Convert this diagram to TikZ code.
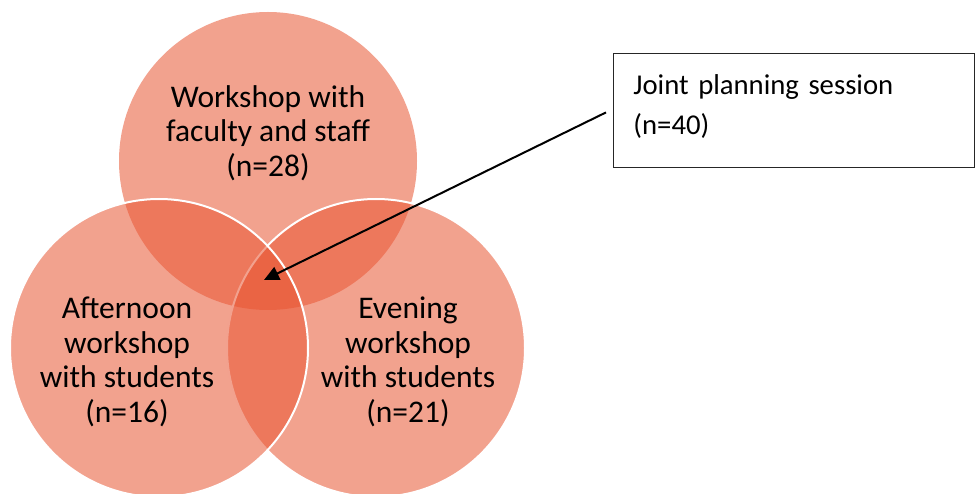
\documentclass[tikz,border=0pt]{standalone}
\usepackage{fontspec}
\setmainfont{Carlito}
\usetikzlibrary{arrows.meta}
\definecolor{vennbase}{RGB}{232,85,50}
\tikzset{
	venn/.style={fill=vennbase, fill opacity=0.55, draw=white, line width=2pt},
	vennplain/.style={fill=vennbase, fill opacity=0.55, draw=none},
	vennlabel/.style={align=center, font=\fontsize{31.5}{34.5}\selectfont},
	notebox/.style={draw=black!85, line width=0.9pt, anchor=north west, align=left,
		text width=321pt, inner xsep=20pt, inner ysep=21pt, text depth=52pt,
		font=\fontsize{28.7}{40}\selectfont},
	pointer/.style={line width=2pt, -{Triangle[length=15pt,width=14pt]}}
}

\begin{document}
\begin{tikzpicture}[x=1pt,y=-1pt]
		%%%%% START %%%%%
		\useasboundingbox (0,0) rectangle (975,494);
		
		% three sets
		\fill[vennplain] (268,161) circle [radius=149pt];
		\draw[venn] (376,348) circle [radius=149pt];
		\draw[venn] (159,348) circle [radius=149pt];
		
		\node[vennlabel] (faculty) at (268,133) {Workshop with\\faculty and staff\\(n=28)};
		\node[vennlabel] (afternoon) at (127,362) {Afternoon\\workshop\\with students\\(n=16)};
		\node[vennlabel] (evening) at (408,362) {Evening\\workshop\\with students\\(n=21)};
		
		% callout
		\node[notebox] (joint) at (613,53) {Joint planning session\\(n=40)};
		\coordinate (tail) at ([xshift=-7pt,yshift=-2pt]joint.west);
		\coordinate (core) at (264,280);
		\draw[pointer] (tail) -- (core);
		
		%%%%% END %%%%%
\end{tikzpicture}
\end{document}
